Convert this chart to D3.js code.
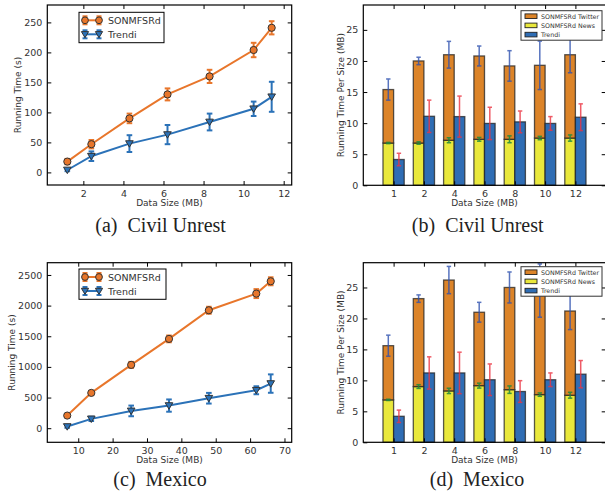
<!DOCTYPE html>
<html><head><meta charset="utf-8">
<script src="https://cdn.jsdelivr.net/npm/d3@7"></script>
<style>
html,body{margin:0;padding:0;background:#fff;}
svg{display:block;}
text{font-family:"DejaVu Sans",sans-serif;}
</style></head>
<body>
<svg id="c" width="605" height="496"></svg>
<script>
// ---------- data ----------
const civilX = [1.2, 2.4, 4.3, 6.2, 8.3, 10.5, 11.4];
const civilSon = [18, 47, 90, 130, 160, 204, 241];
const civilSonErr = [4.5, 7, 8, 10, 11, 12, 11];
const civilTrendi = [4, 27, 48, 63, 84, 106, 126];
const civilTrendiErr = [2, 8, 14, 16, 14, 12, 25];
const civilYTicks = [0, 50, 100, 150, 200, 250];
const civilXTicks = [2, 4, 6, 8, 10, 12];

const mexX = [6.8, 13.8, 25.4, 36.4, 48.0, 61.8, 66.0];
const mexSon = [206, 576, 1033, 1457, 1924, 2196, 2397];
const mexSonErr = [25, 30, 49, 55, 57, 73, 65];
const mexTrendi = [27, 152, 282, 369, 489, 619, 728];
const mexTrendiErr = [20, 35, 87, 100, 87, 65, 150];
const mexYTicks = [0, 500, 1000, 1500, 2000, 2500];
const mexXTicks = [10, 20, 30, 40, 50, 60, 70];

const barCats = ["1", "2", "4", "6", "8", "10", "12"];
const barYTicks = [0, 5, 10, 15, 20, 25];

const civilNews = [6.8, 6.8, 7.25, 7.4, 7.4, 7.6, 7.6];
const civilNewsErr = [0.1, 0.2, 0.4, 0.3, 0.55, 0.27, 0.5];
const civilTwitter = [8.6, 13.2, 13.75, 13.4, 11.8, 11.7, 13.4];
const civilTwitterErr = [1.7, 0.6, 2.15, 1.6, 2.45, 3.9, 2.9];
const civilTrendiBar = [4.15, 11.1, 11.05, 9.95, 10.2, 9.95, 10.95];
const civilTrendiBarErr = [1.0, 2.6, 3.3, 2.6, 1.75, 1.1, 2.15];

const mexNews = [6.85, 9.0, 8.3, 9.15, 8.5, 7.7, 7.6];
const mexNewsErr = [0.1, 0.3, 0.43, 0.4, 0.6, 0.27, 0.47];
const mexTwitter = [8.75, 14.2, 17.9, 11.85, 16.5, 16.8, 13.6];
const mexTwitterErr = [1.7, 0.6, 2.2, 1.6, 2.5, 4.3, 3.0];
const mexTrendiBar = [4.2, 11.2, 11.2, 10.1, 8.2, 10.1, 11.0];
const mexTrendiBarErr = [1.0, 2.6, 3.35, 2.55, 1.75, 1.1, 2.2];

// ---------- styles ----------
const ORANGE = "#e8762b", BLUE = "#2b72b8";
const BAR_OR = "#dc8429", BAR_YE = "#e9e83c", BAR_BL = "#2f6db4";
const ERR_TW = "#2f52b0", ERR_NEWS = "#1d8a3c", ERR_TR = "#ec3442";
const TXT = "#333";

const svg = d3.select("#c");
svg.append("rect").attr("width", 605).attr("height", 496).attr("fill", "#fff");

function axes(g, x, y, box, xt, yt, xfmt) {
  const {l, r, t, b} = box;
  const ax = (gen, tr, lab) => {
    const a = g.append("g").attr("transform", tr).call(gen.tickSizeOuter(0).tickSizeInner(-4).tickPadding(lab ? 5 : 0));
    a.select(".domain").remove();
    a.selectAll(".tick line").attr("stroke", "#000").attr("stroke-width", 1);
    if (!lab) a.selectAll(".tick text").remove();
    else a.selectAll(".tick text").attr("fill", TXT).style("font-size", "9.5px").style("font-family", "DejaVu Sans");
    return a;
  };
  ax(d3.axisBottom(x).tickValues(xt).tickFormat(xfmt || d3.format("d")), `translate(0,${b})`, true);
  ax(d3.axisTop(x).tickValues(xt), `translate(0,${t})`, false);
  ax(d3.axisLeft(y).tickValues(yt).tickFormat(d3.format("d")), `translate(${l},0)`, true);
  ax(d3.axisRight(y).tickValues(yt), `translate(${r},0)`, false);
}

function frame(g, box) {
  g.append("rect").attr("x", box.l).attr("y", box.t).attr("width", box.r - box.l).attr("height", box.b - box.t)
    .attr("fill", "none").attr("stroke", "#000").attr("stroke-width", 1.2);
}

function labels(g, box, ylab, ylx) {
  g.append("text").attr("x", (box.l + box.r) / 2).attr("y", box.b + 21).attr("text-anchor", "middle")
    .attr("fill", TXT).style("font-size", "9px").text("Data Size (MB)");
  g.append("text").attr("transform", `translate(${ylx},${(box.t + box.b) / 2}) rotate(-90)`)
    .attr("text-anchor", "middle").attr("fill", TXT).style("font-size", "9px").text(ylab);
}

function caption(letter, name, cx, by) {
  svg.append("text").attr("x", cx).attr("y", by).attr("text-anchor", "middle")
    .style("font-family", "Liberation Serif, Times New Roman, serif").style("font-size", "20px").attr("fill", "#222")
    .text(`(${letter})\u2002${name}`);
}

function errbar(g, cx, y0, y1, color, cap, w, op) {
  const gg = g.append("g").attr("stroke", color).attr("stroke-width", w).attr("opacity", op);
  gg.append("line").attr("x1", cx).attr("x2", cx).attr("y1", y0).attr("y2", y1);
  gg.append("line").attr("x1", cx - cap).attr("x2", cx + cap).attr("y1", y0).attr("y2", y0);
  gg.append("line").attr("x1", cx - cap).attr("x2", cx + cap).attr("y1", y1).attr("y2", y1);
}

function triPath(cx, cy, s) {
  return `M${cx - s},${cy - s * 0.75}L${cx + s},${cy - s * 0.75}L${cx},${cy + s * 0.95}Z`;
}

function linePanel(box, xs, son, sonE, tr, trE, xdom, ydom, xt, yt, ylx, legBox) {
  const g = svg.append("g");
  const x = d3.scaleLinear().domain(xdom).range([box.l, box.r]);
  const y = d3.scaleLinear().domain(ydom).range([box.b, box.t]);
  const line = d3.line().x(d => x(d[0])).y(d => y(d[1]));
  const series = [
    {v: son, e: sonE, c: ORANGE, m: "o"},
    {v: tr, e: trE, c: BLUE, m: "v"}
  ];
  series.forEach(s => {
    s.v.forEach((v, i) => errbar(g, x(xs[i]), y(v - s.e[i]), y(v + s.e[i]), s.c, 2.8, 2, 1));
    g.append("path").datum(xs.map((xx, i) => [xx, s.v[i]])).attr("d", line)
      .attr("fill", "none").attr("stroke", s.c).attr("stroke-width", 2);
    s.v.forEach((v, i) => {
      if (s.m === "o") g.append("circle").attr("cx", x(xs[i])).attr("cy", y(v)).attr("r", 3.6)
        .attr("fill", s.c).attr("stroke", "#333").attr("stroke-width", 1);
      else g.append("path").attr("d", triPath(x(xs[i]), y(v), 3.8)).attr("fill", s.c).attr("stroke", "#333").attr("stroke-width", 1);
    });
  });
  axes(g, x, y, box, xt, yt);
  frame(g, box);
  labels(g, box, "Running Time (s)", ylx);
  // legend
  const lg = g.append("g");
  lg.append("rect").attr("x", legBox.x).attr("y", legBox.y).attr("width", legBox.w).attr("height", legBox.h)
    .attr("fill", "#fff").attr("stroke", "#000").attr("stroke-width", 1);
  ["SONMFSRd", "Trendi"].forEach((name, k) => {
    const cy = legBox.y + 8 + k * 14;
    const s = series[k];
    const x0 = legBox.x + 6, x1 = legBox.x + 20;
    [x0, x1].forEach(xx => errbar(lg, xx, cy - 4, cy + 4, s.c, 2.5, 2, 1));
    lg.append("line").attr("x1", x0).attr("x2", x1).attr("y1", cy).attr("y2", cy).attr("stroke", s.c).attr("stroke-width", 2);
    [x0, x1].forEach(xx => {
      if (s.m === "o") lg.append("circle").attr("cx", xx).attr("cy", cy).attr("r", 3.4).attr("fill", s.c).attr("stroke", "#333");
      else lg.append("path").attr("d", triPath(xx, cy, 3.6)).attr("fill", s.c).attr("stroke", "#333");
    });
    lg.append("text").attr("x", legBox.x + 29).attr("y", cy + 3.5).attr("fill", TXT).style("font-size", "9.5px").text(name);
  });
}

function barPanel(box, news, newsE, tw, twE, trd, trdE, ylx, legY) {
  const g = svg.append("g");
  const x = d3.scaleLinear().domain([0, 8]).range([box.l, box.r]);
  const y = d3.scaleLinear().domain([0, 29]).range([box.b, box.t]);
  const bw = 0.35;
  const idx = barCats.map((c, i) => i + 1);
  const stk = d3.stack().keys(["news", "tw"])(idx.map((p, i) => ({news: news[i], tw: tw[i]})));
  const edge = (sel) => sel.attr("stroke", "#222").attr("stroke-width", 1.3).attr("stroke-opacity", 0.75);
  // error bars behind bars partially
  stk[0].forEach((d, i) => {
    g.append("rect").attr("x", x(idx[i] - bw)).attr("width", x(bw) - x(0)).attr("y", y(d[1])).attr("height", y(d[0]) - y(d[1]))
      .attr("fill", BAR_YE).call(edge);
  });
  stk[1].forEach((d, i) => {
    g.append("rect").attr("x", x(idx[i] - bw)).attr("width", x(bw) - x(0)).attr("y", y(d[1])).attr("height", y(d[0]) - y(d[1]))
      .attr("fill", BAR_OR).call(edge);
  });
  trd.forEach((v, i) => {
    g.append("rect").attr("x", x(idx[i])).attr("width", x(bw) - x(0)).attr("y", y(v)).attr("height", y(0) - y(v))
      .attr("fill", BAR_BL).call(edge);
  });
  idx.forEach((p, i) => {
    const cx = x(p - bw / 2), cb = x(p + bw / 2);
    const tot = stk[1][i][1];
    errbar(g, cx, y(tot - twE[i]), y(tot + twE[i]), ERR_TW, 2.2, 1.5, 0.8);
    errbar(g, cx, y(news[i] - newsE[i]), y(news[i] + newsE[i]), ERR_NEWS, 2.2, 1.5, 0.85);
    errbar(g, cb, y(trd[i] - trdE[i]), y(trd[i] + trdE[i]), ERR_TR, 2.2, 1.5, 0.8);
  });
  axes(g, x, y, box, idx, barYTicks, (d) => barCats[d - 1]);
  frame(g, box);
  labels(g, box, "Running Time Per Size (MB)", ylx);
  // legend
  const lg = g.append("g");
  lg.append("rect").attr("x", 521).attr("y", legY).attr("width", 81).attr("height", 29.5)
    .attr("fill", "#fff").attr("stroke", "#333").attr("stroke-width", 1);
  [["SONMFSRd Twitter", BAR_OR], ["SONMFSRd News", BAR_YE], ["Trendi", BAR_BL]].forEach(([n, c], k) => {
    const cy = legY + 5.5 + k * 9.2;
    lg.append("rect").attr("x", 525).attr("y", cy - 2.3).attr("width", 12).attr("height", 4.6).attr("fill", c)
      .attr("stroke", "#222").attr("stroke-width", 0.9);
    lg.append("text").attr("x", 541).attr("y", cy + 2.3).attr("fill", TXT).style("font-size", "6.3px").text(n);
  });
}

const boxA = {l: 47.3, r: 291.7, t: 5, b: 185};
const boxB = {l: 363.3, r: 605.7, t: 5, b: 185.3};
const boxC = {l: 47.3, r: 291.7, t: 262.7, b: 442.3};
const boxD = {l: 363.3, r: 605.7, t: 262.7, b: 442.3};

linePanel(boxA, civilX, civilSon, civilSonErr, civilTrendi, civilTrendiErr, [0.2, 12.4], [-21, 279], civilXTicks, civilYTicks, 21, {x: 79, y: 12.3, w: 85, h: 30.4});
linePanel(boxC, mexX, mexSon, mexSonErr, mexTrendi, mexTrendiErr, [1, 72.1], [-230, 2700], mexXTicks, mexYTicks, 14.5, {x: 79, y: 269, w: 87, h: 30.3});
barPanel(boxB, civilNews, civilNewsErr, civilTwitter, civilTwitterErr, civilTrendiBar, civilTrendiBarErr, 343.5, 10.7);
barPanel(boxD, mexNews, mexNewsErr, mexTwitter, mexTwitterErr, mexTrendiBar, mexTrendiBarErr, 343.5, 266.7);

caption("a", "Civil Unrest", 160.6, 232);
caption("b", "Civil Unrest", 477.7, 232);
caption("c", "Mexico", 160, 486);
caption("d", "Mexico", 477, 486);
</script>
</body></html>
